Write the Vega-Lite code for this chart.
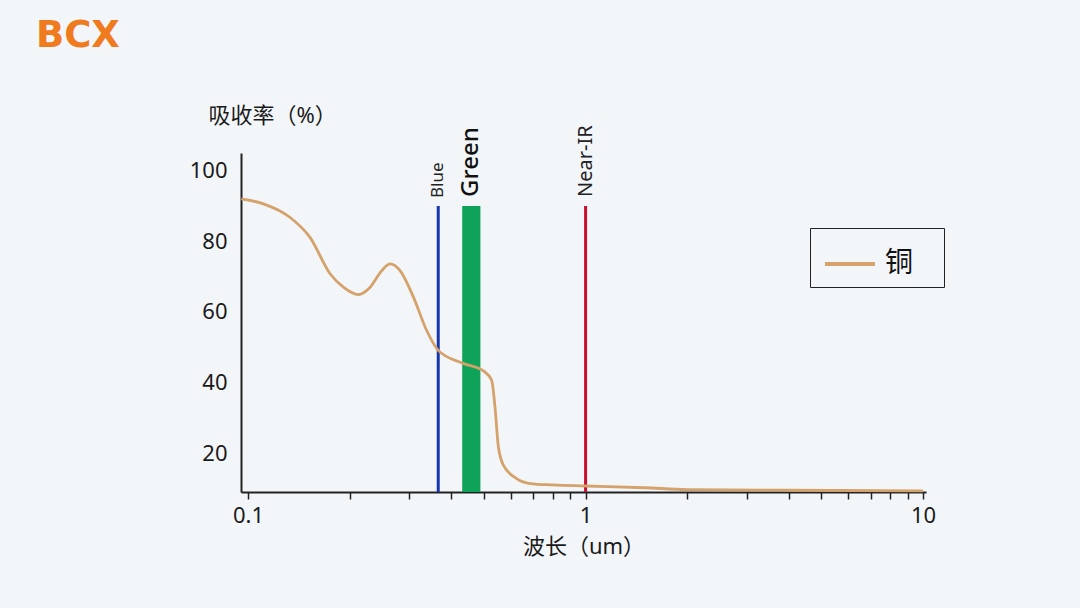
{
  "$schema": "https://vega.github.io/schema/vega-lite/v6.json",
  "width": 685,
  "height": 339,
  "autosize": {"type": "none"},
  "padding": {"left": 241, "top": 153, "right": 154, "bottom": 116},
  "background": "#f3f6f9",
  "title": {
    "text": "BCX",
    "anchor": "start",
    "frame": "group",
    "orient": "top",
    "offset": 0,
    "dx": -205,
    "dy": -49,
    "fontSize": 37,
    "fontWeight": "bold",
    "color": "#f07a1e",
    "font": "DejaVu Sans"
  },
  "config": {
    "view": {"stroke": null},
    "font": "Noto Sans, Noto Sans CJK SC",
    "axis": {"domainColor": "#222222", "domainWidth": 2, "tickColor": "#222222", "labelColor": "#1a1a1a", "titleColor": "#1a1a1a", "grid": false}
  },
  "datasets": {
    "curve": [
      {"wl": 0.0955, "abs": 92.0, "m": "铜"},
      {"wl": 0.111, "abs": 90.6, "m": "铜"},
      {"wl": 0.133, "abs": 86.8, "m": "铜"},
      {"wl": 0.1526, "abs": 81.1, "m": "铜"},
      {"wl": 0.175, "abs": 70.8, "m": "铜"},
      {"wl": 0.1916, "abs": 67.0, "m": "铜"},
      {"wl": 0.2123, "abs": 64.9, "m": "铜"},
      {"wl": 0.23, "abs": 67.0, "m": "铜"},
      {"wl": 0.249, "abs": 71.7, "m": "铜"},
      {"wl": 0.2635, "abs": 73.6, "m": "铜"},
      {"wl": 0.282, "abs": 71.7, "m": "铜"},
      {"wl": 0.309, "abs": 64.2, "m": "铜"},
      {"wl": 0.338, "abs": 54.8, "m": "铜"},
      {"wl": 0.366, "abs": 49.1, "m": "铜"},
      {"wl": 0.4315, "abs": 45.5, "m": "铜"},
      {"wl": 0.498, "abs": 43.3, "m": "铜"},
      {"wl": 0.527, "abs": 40.6, "m": "铜"},
      {"wl": 0.539, "abs": 33.1, "m": "铜"},
      {"wl": 0.5516, "abs": 21.8, "m": "铜"},
      {"wl": 0.5707, "abs": 16.6, "m": "铜"},
      {"wl": 0.625, "abs": 12.8, "m": "铜"},
      {"wl": 0.685, "abs": 11.4, "m": "铜"},
      {"wl": 0.8, "abs": 11.0, "m": "铜"},
      {"wl": 1.0, "abs": 10.7, "m": "铜"},
      {"wl": 1.5, "abs": 10.2, "m": "铜"},
      {"wl": 2.0, "abs": 9.7, "m": "铜"},
      {"wl": 4.0, "abs": 9.5, "m": "铜"},
      {"wl": 10.0, "abs": 9.3, "m": "铜"}
    ],
    "bands": [
      {"name": "Blue", "x1": 0.366, "x2": 0.366},
      {"name": "Green", "x1": 0.431, "x2": 0.488},
      {"name": "Near-IR", "x1": 1.0, "x2": 1.0}
    ]
  },
  "layer": [
    {
      "data": {"name": "bands"},
      "transform": [{"filter": "datum.name == 'Green'"}],
      "mark": {"type": "rect", "color": "#0fa35a"},
      "encoding": {
        "x": {"field": "x1", "type": "quantitative", "scale": {"type": "log", "domain": [0.0953, 10.2], "nice": false}},
        "x2": {"field": "x2"},
        "y": {"datum": 9, "type": "quantitative"},
        "y2": {"datum": 90}
      }
    },
    {
      "data": {"name": "bands"},
      "transform": [{"filter": "datum.name == 'Blue'"}],
      "mark": {"type": "rule", "color": "#1636ae", "strokeWidth": 3},
      "encoding": {
        "x": {"field": "x1", "type": "quantitative"},
        "y": {"datum": 9, "type": "quantitative"},
        "y2": {"datum": 90}
      }
    },
    {
      "data": {"name": "bands"},
      "transform": [{"filter": "datum.name == 'Near-IR'"}],
      "mark": {"type": "rule", "color": "#c8102e", "strokeWidth": 3},
      "encoding": {
        "x": {"field": "x1", "type": "quantitative"},
        "y": {"datum": 9, "type": "quantitative"},
        "y2": {"datum": 90}
      }
    },
    {
      "data": {"name": "bands"},
      "transform": [{"filter": "datum.name == 'Blue'"}],
      "mark": {"type": "text", "angle": 270, "align": "left", "baseline": "middle", "dx": 8, "fontSize": 17, "color": "#222222"},
      "encoding": {
        "x": {"field": "x1", "type": "quantitative"},
        "y": {"datum": 90, "type": "quantitative"},
        "text": {"field": "name"}
      }
    },
    {
      "data": {"name": "bands"},
      "transform": [{"filter": "datum.name == 'Near-IR'"}],
      "mark": {"type": "text", "angle": 270, "align": "left", "baseline": "middle", "dx": 9, "fontSize": 20, "color": "#222222"},
      "encoding": {
        "x": {"field": "x1", "type": "quantitative"},
        "y": {"datum": 90, "type": "quantitative"},
        "text": {"field": "name"}
      }
    },
    {
      "data": {"name": "bands"},
      "transform": [{"filter": "datum.name == 'Green'"}],
      "mark": {"type": "text", "angle": 270, "align": "left", "baseline": "middle", "dx": 9, "fontSize": 24, "fontWeight": 500, "color": "#111111"},
      "encoding": {
        "x": {"datum": 0.459, "type": "quantitative"},
        "y": {"datum": 90, "type": "quantitative"},
        "text": {"field": "name"}
      }
    },
    {
      "data": {"name": "curve"},
      "mark": {"type": "line", "interpolate": "monotone", "strokeWidth": 2.8},
      "encoding": {
        "x": {
          "field": "wl", "type": "quantitative",
          "scale": {"type": "log", "domain": [0.0953, 10.2], "nice": false},
          "axis": {
            "title": "波长（um）",
            "titleFontSize": 22,
            "titleFontWeight": "normal",
            "titlePadding": 10,
            "values": [0.1, 0.2, 0.3, 0.4, 0.5, 0.6, 0.7, 0.8, 0.9, 1, 2, 3, 4, 5, 6, 7, 8, 9, 10],
            "labelExpr": "datum.value == 0.1 ? '0.1' : (datum.value == 1 ? '1' : (datum.value == 10 ? '10' : ''))",
            "labelFontSize": 22,
            "labelPadding": 6,
            "labelFlush": false,
            "labelOverlap": false,
            "tickSize": 7,
            "tickWidth": 1.5
          }
        },
        "y": {
          "field": "abs", "type": "quantitative",
          "scale": {"domain": [9, 105], "nice": false, "zero": false},
          "axis": {
            "title": "吸收率（%）",
            "titleAngle": 0,
            "titleAlign": "left",
            "titleBaseline": "middle",
            "titleX": -33,
            "titleY": -38,
            "titleFontSize": 22,
            "titleFontWeight": "normal",
            "values": [20, 40, 60, 80, 100],
            "ticks": false,
            "labelPadding": 14,
            "labelFontSize": 22
          }
        },
        "color": {
          "field": "m", "type": "nominal",
          "scale": {"range": ["#d4a26a"]},
          "legend": {
            "title": null,
            "orient": "none",
            "legendX": 569,
            "legendY": 75,
            "strokeColor": "#222222",
            "padding": 9,
            "symbolType": "stroke",
            "symbolSize": 2500,
            "symbolStrokeWidth": 4,
            "symbolOffset": 4,
            "labelOffset": 8,
            "labelFontSize": 28,
            "labelColor": "#111111",
            "labelExpr": "datum.label + '\u2800'"
          }
        }
      }
    }
  ]
}
